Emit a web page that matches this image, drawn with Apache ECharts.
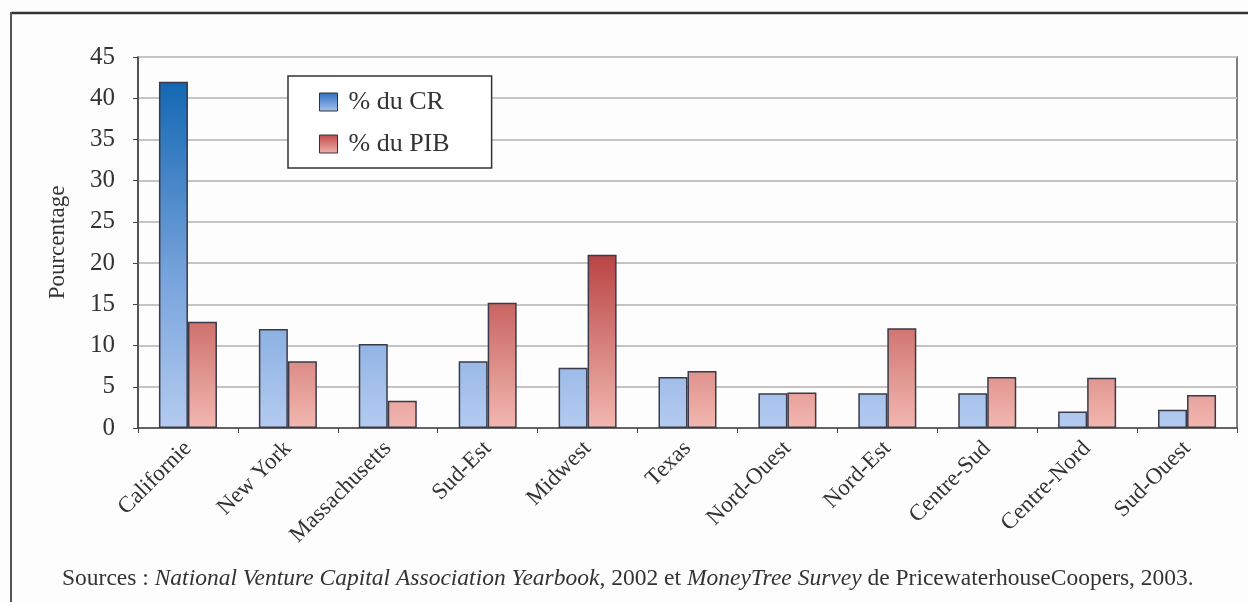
<!DOCTYPE html>
<html>
<head>
<meta charset="utf-8">
<script src="https://cdn.jsdelivr.net/npm/echarts@6/dist/echarts.min.js"></script>
<style>
html,body{margin:0;padding:0;background:#fdfdfd;}
#chart{width:1248px;height:602px;}
</style>
</head>
<body>
<div id="chart"></div>
<script>
const categories = ['Californie','New York','Massachusetts','Sud-Est','Midwest','Texas','Nord-Ouest','Nord-Est','Centre-Sud','Centre-Nord','Sud-Ouest'];
const seriesNames = ['% du CR','% du PIB'];
const crValues = [42, 12, 10.2, 8.1, 7.3, 6.2, 4.2, 4.2, 4.2, 2.0, 2.2];
const pibValues = [12.9, 8.1, 3.3, 15.2, 21, 6.9, 4.3, 12.1, 6.2, 6.1, 4.0];
const yTicks = [0, 5, 10, 15, 20, 25, 30, 35, 40, 45];
const sourceParts = [
  ['n', 'Sources : '],
  ['i', 'National Venture Capital Association Yearbook'],
  ['n', ', 2002 et '],
  ['i', 'MoneyTree Survey'],
  ['n', ' de PricewaterhouseCoopers, 2003.']
];

const chart = echarts.init(document.getElementById('chart'));
const FONT = '"Liberation Serif", "DejaVu Serif", serif';
const gTop = 57, gBottom = 428;

const blueGrad = new echarts.graphic.LinearGradient(0, gTop, 0, gBottom, [
  {offset: 0, color: '#0660ae'}, {offset: 0.6, color: '#78a4dc'}, {offset: 1, color: '#b4cbf0'}], true);
const redGrad = new echarts.graphic.LinearGradient(0, gTop, 0, gBottom, [
  {offset: 0, color: '#8a1a1a'}, {offset: 0.5, color: '#b43c3c'}, {offset: 1, color: '#f2b8b0'}], true);
const blueIcon = new echarts.graphic.LinearGradient(0, 0, 0, 1, [
  {offset: 0, color: '#2a6fc0'}, {offset: 1, color: '#a9c3ee'}]);
const redIcon = new echarts.graphic.LinearGradient(0, 0, 0, 1, [
  {offset: 0, color: '#c04848'}, {offset: 1, color: '#f0b2ac'}]);

const richText = sourceParts.map(p => '{' + p[0] + '|' + p[1] + '}').join('');

chart.setOption({
  backgroundColor: '#fdfdfd',
  animation: false,
  grid: {left: 138, right: 11, top: gTop, bottom: 602 - gBottom, show: true,
    borderColor: '#555', borderWidth: 1.5, backgroundColor: 'transparent'},
  legend: {
    orient: 'vertical', left: 288, top: 76,
    data: [
      {name: seriesNames[0], itemStyle: {color: blueIcon, borderColor: '#333', borderWidth: 1}},
      {name: seriesNames[1], itemStyle: {color: redIcon, borderColor: '#333', borderWidth: 1}}
    ],
    icon: 'rect', itemWidth: 18, itemHeight: 18, itemGap: 16,
    padding: [13, 42, 11, 31],
    borderColor: '#333', borderWidth: 1.5, backgroundColor: '#fff',
    textStyle: {fontFamily: FONT, fontSize: 26, color: '#333', padding: [0, 0, 0, 6]}
  },
  xAxis: {
    type: 'category', data: categories,
    axisLine: {lineStyle: {color: '#444', width: 1.5}},
    axisTick: {show: true, length: 5, alignWithLabel: false, lineStyle: {color: '#444'}},
    axisLabel: {rotate: 45, fontFamily: FONT, fontSize: 23, color: '#333', margin: 17, interval: 0}
  },
  yAxis: {
    type: 'value', min: yTicks[0], max: yTicks[yTicks.length - 1], interval: 5,
    name: 'Pourcentage', nameLocation: 'middle', nameGap: 69,
    nameTextStyle: {fontFamily: FONT, fontSize: 23, color: '#333'},
    axisLine: {show: true, lineStyle: {color: '#444', width: 1.5}},
    axisTick: {show: true, length: 5, lineStyle: {color: '#444'}},
    axisLabel: {fontFamily: FONT, fontSize: 25, color: '#333', margin: 23},
    splitLine: {lineStyle: {color: '#c4c4c4', width: 2}}
  },
  series: [
    {name: seriesNames[0], type: 'bar', data: crValues, barWidth: 29, barGap: '0%',
      itemStyle: {color: blueGrad, borderColor: '#3a3a48', borderWidth: 1.5}},
    {name: seriesNames[1], type: 'bar', data: pibValues, barWidth: 29, barGap: '0%',
      itemStyle: {color: redGrad, borderColor: '#3a3a48', borderWidth: 1.5}}
  ],
  graphic: [
    {type: 'line', shape: {x1: 11, y1: 13, x2: 1248, y2: 13}, style: {stroke: '#333', lineWidth: 2.5}},
    {type: 'line', shape: {x1: 11, y1: 12, x2: 11, y2: 602}, style: {stroke: '#555', lineWidth: 2}},
    {type: 'text', left: 62, top: 567,
      style: {text: richText, fill: '#333',
        rich: {
          n: {fontFamily: FONT, fontSize: 23.5, fill: '#333'},
          i: {fontFamily: FONT, fontSize: 23.5, fontStyle: 'italic', fill: '#333'}
        }}}
  ]
});
</script>
</body>
</html>
